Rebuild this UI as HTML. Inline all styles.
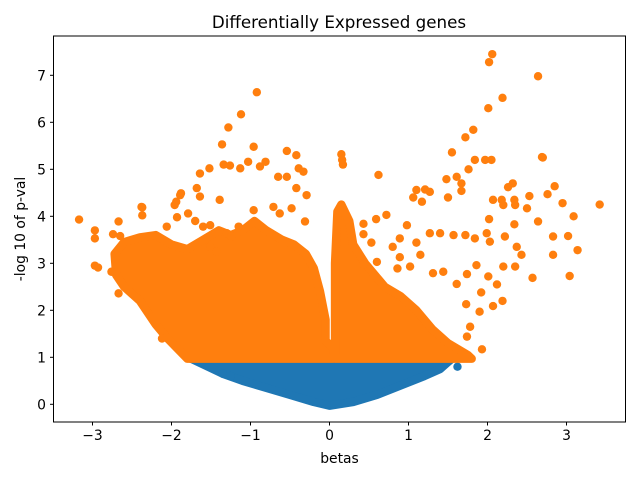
<!DOCTYPE html>
<html><head><meta charset="utf-8"><style>
body{margin:0;background:#fff}
svg{display:block;font-family:"DejaVu Sans","Liberation Sans",sans-serif}
</style></head><body>
<svg id="chart" width="640" height="480" xmlns="http://www.w3.org/2000/svg">
<defs><clipPath id="clip"><rect x="53.5" y="36" width="572" height="386"/></clipPath></defs>
<rect x="0" y="0" width="640" height="480" fill="#fff"/>
<text x="339" y="28" font-size="16.7" text-anchor="middle">Differentially Expressed genes</text>
<g id="marks" clip-path="url(#clip)"></g>
<rect x="53.5" y="36" width="572" height="386" fill="none" stroke="#000" stroke-width="1"/>
<g id="axes"></g>
<text x="339.5" y="463" font-size="13.9" text-anchor="middle">betas</text>
<text transform="translate(25,229) rotate(-90)" font-size="13.9" text-anchor="middle">-log 10 of p-val</text>
</svg>
<script>
const xTicks = [-3,-2,-1,0,1,2,3];
const yTicks = [0,1,2,3,4,5,6,7];
const blueRegion = [[-1.75,0.97],[-1.6,0.85],[-1.35,0.65],[-1.1,0.5],[-0.8,0.35],[-0.5,0.2],[-0.2,0.05],[0,-0.03],[0.3,0.05],[0.6,0.2],[0.9,0.4],[1.2,0.6],[1.4,0.75],[1.5,0.9],[1.55,0.97]];
const bluePoints = [[-1.76,0.97],[-1.6,0.9],[-1.35,0.65],[-1.25,0.6],[1.62,0.8]];
const orangeLeftRegion = [[-2.7,2.75],[-2.72,3.2],[-2.6,3.45],[-2.4,3.55],[-2.2,3.6],[-2.0,3.4],[-1.8,3.3],[-1.6,3.5],[-1.4,3.7],[-1.25,3.6],[-1.1,3.7],[-0.95,3.9],[-0.8,3.7],[-0.6,3.5],[-0.45,3.4],[-0.3,3.2],[-0.2,2.9],[-0.12,2.4],[-0.05,1.8],[-0.05,1.35],[0.05,1.2],[0.05,0.97],[-1.8,0.97],[-2.05,1.4],[-2.2,1.7],[-2.4,2.2],[-2.6,2.5]];
const orangeSpikeRegion = [[0.07,0.97],[0.07,3.0],[0.1,4.1],[0.15,4.25],[0.25,3.9],[0.3,3.4],[0.45,3.0],[0.7,2.5],[0.9,2.3],[1.1,2.0],[1.3,1.6],[1.5,1.3],[1.75,1.05],[1.8,0.97]];
const orangePoints = [[-3.17,3.93],[-2.97,3.7],[-2.97,3.53],[-2.97,2.95],[-2.93,2.91],[-2.65,3.58],[-2.67,2.36],[-2.37,4.19],[-2.37,4.02],[-1.96,4.24],[-1.88,4.49],[-1.68,4.6],[-1.64,4.91],[-1.52,5.02],[-1.36,5.53],[-1.28,5.89],[-1.12,6.17],[-0.92,6.64],[-1.34,5.1],[-1.26,5.08],[-0.96,5.48],[-0.54,5.39],[-0.42,5.3],[-0.39,5.02],[-0.33,4.95],[-0.81,5.16],[-1.13,5.02],[-1.03,5.16],[-0.88,5.06],[-0.65,4.84],[-0.54,4.84],[-0.42,4.6],[-0.29,4.45],[-1.89,4.45],[-1.94,4.31],[-2.38,4.2],[-1.93,3.98],[-1.79,4.06],[-2.06,3.78],[-1.6,3.78],[-1.51,3.81],[-1.7,3.9],[-1.64,4.42],[-1.39,4.35],[-1.3,3.64],[-1.15,3.78],[-0.96,4.13],[-0.71,4.2],[-0.63,4.06],[-0.31,3.89],[-0.48,4.17],[-1.24,3.57],[-1.51,3.35],[-1.43,3.25],[-2.76,2.82],[-2.67,3.89],[-2.74,3.62],[-2.12,1.4],
[1.82,5.84],[1.72,5.68],[1.55,5.36],[1.84,5.2],[1.97,5.2],[2.05,5.2],[2.7,5.25],[1.76,5.0],[1.48,4.79],[1.61,4.84],[1.67,4.7],[1.67,4.54],[1.5,4.4],[0.62,4.88],[1.1,4.56],[1.21,4.57],[1.27,4.52],[1.06,4.4],[1.17,4.31],[2.32,4.7],[2.26,4.62],[2.53,4.43],[2.76,4.47],[2.85,4.64],[2.95,4.28],[3.42,4.25],[3.09,4.0],[2.64,3.89],[2.07,4.35],[2.18,4.35],[2.34,4.35],[2.2,4.24],[2.35,4.24],[2.5,4.17],[2.02,3.94],[2.34,3.83],
[0.72,4.03],[0.59,3.94],[0.43,3.84],[0.43,3.62],[0.53,3.44],[0.8,3.35],[0.89,3.53],[0.98,3.81],[1.1,3.44],[0.89,3.13],[1.15,3.18],[1.27,3.64],[1.4,3.64],[1.57,3.6],[1.72,3.6],[1.84,3.53],[1.99,3.64],[2.03,3.46],[2.22,3.57],[2.37,3.35],[2.43,3.18],[2.83,3.57],[3.02,3.58],[3.14,3.28],[2.83,3.18],[3.04,2.73],[2.57,2.69],[2.35,2.93],[2.2,2.93],[1.86,2.96],[1.74,2.77],[2.01,2.72],[2.12,2.55],[1.92,2.38],[2.07,2.09],[2.19,2.2],[1.9,1.97],[1.73,2.13],[1.61,2.56],[1.44,2.82],[1.31,2.79],[1.02,2.93],[0.86,2.89],[0.6,3.03],[0.43,2.98],[1.78,1.65],[1.93,1.17],[1.74,1.44],
[2.06,7.45],[2.02,7.28],[2.64,6.98],[2.19,6.52],[2.01,6.3],[2.69,5.26],[0.15,5.32],[0.17,5.1],[0.16,5.2]];

const NS='http://www.w3.org/2000/svg';
const X0=329.5, XS=79, Y0=404.3, YS=47;
function sx(v){return X0+v*XS;}
function sy(v){return Y0-v*YS;}
const marks=document.getElementById('marks');
const axes=document.getElementById('axes');
function region(pts,color,name){
  const p=document.createElementNS(NS,'polygon');
  p.setAttribute('points',pts.map(d=>sx(d[0])+','+sy(d[1])).join(' '));
  p.setAttribute('fill',color);p.setAttribute('stroke',color);
  p.setAttribute('stroke-width','8.4');p.setAttribute('stroke-linejoin','round');
  
  
  marks.appendChild(p);
}
function points(pts,color,name){
  pts.forEach(d=>{
    const c=document.createElementNS(NS,'circle');
    c.setAttribute('cx',sx(d[0]));c.setAttribute('cy',sy(d[1]));
    c.setAttribute('r','4.2');c.setAttribute('fill',color);
    
    
    marks.appendChild(c);
  });
}
region(blueRegion,'#1f77b4','not-significant-cluster');
points(bluePoints,'#1f77b4','not-significant-point');
region(orangeLeftRegion,'#ff7f0e','significant-cluster-left');
region(orangeSpikeRegion,'#ff7f0e','significant-cluster-right');
points(orangePoints,'#ff7f0e','significant-point');

xTicks.forEach(t=>{
  const x=sx(t);
  const l=document.createElementNS(NS,'line');
  l.setAttribute('x1',x);l.setAttribute('x2',x);l.setAttribute('y1',422);l.setAttribute('y2',425.5);
  l.setAttribute('stroke','#000');
  
  
  axes.appendChild(l);
  const tx=document.createElementNS(NS,'text');
  tx.setAttribute('x',x);tx.setAttribute('y',440);tx.setAttribute('font-size','13.9');tx.setAttribute('text-anchor','middle');
  tx.textContent=(t<0?'\u2212'+(-t):String(t));
  
  
  axes.appendChild(tx);
});
yTicks.forEach(t=>{
  const y=sy(t);
  const l=document.createElementNS(NS,'line');
  l.setAttribute('x1',50);l.setAttribute('x2',53.5);l.setAttribute('y1',y);l.setAttribute('y2',y);
  l.setAttribute('stroke','#000');
  
  
  axes.appendChild(l);
  const tx=document.createElementNS(NS,'text');
  tx.setAttribute('x',46);tx.setAttribute('y',y+5);tx.setAttribute('font-size','13.9');tx.setAttribute('text-anchor','end');
  tx.textContent=String(t);
  
  
  axes.appendChild(tx);
});
</script>
</body></html>
